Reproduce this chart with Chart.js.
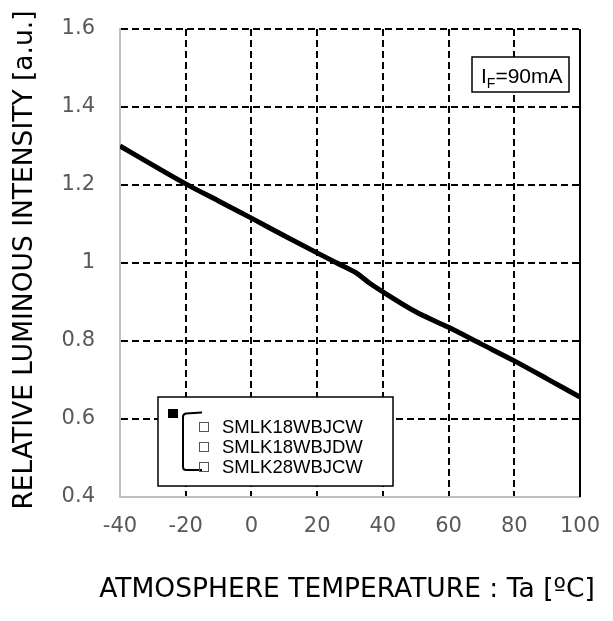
<!DOCTYPE html>
<html><head><meta charset="utf-8">
<script src="https://cdn.jsdelivr.net/npm/chart.js@4.4.0/dist/chart.umd.min.js"></script>
<style>html,body{margin:0;padding:0;background:#fff;}#wrap{width:613px;height:621px;}</style>
</head><body><div id="wrap"><canvas id="c" width="613" height="621"></canvas></div>
<script>
const temperatures = [-40, -30, -20, -10, 0, 10, 20, 26, 32, 36, 40, 50, 60, 70, 80, 90, 100];
const intensity    = [1.30, 1.251, 1.203, 1.159, 1.115, 1.07, 1.026, 1.0, 0.974, 0.948, 0.926, 0.875, 0.835, 0.792, 0.749, 0.703, 0.656];
const xTicks = [-40, -20, 0, 20, 40, 60, 80, 100];
const yTicks = [0.4, 0.6, 0.8, 1.0, 1.2, 1.4, 1.6];
const yTickLabels = ['0.4', '0.6', '0.8', '1', '1.2', '1.4', '1.6'];
const xTitle = 'ATMOSPHERE TEMPERATURE : Ta [ºC]';
const yTitle = 'RELATIVE LUMINOUS INTENSITY [a.u.]';
const legendItems = ['SMLK18WBJCW', 'SMLK18WBJDW', 'SMLK28WBJCW'];
const condition = {main: 'I', sub: 'F', rest: '=90mA'};

const decor = {
  id: 'decor',
  afterDraw(chart) {
    const ctx = chart.ctx, a = chart.chartArea;
    ctx.save();
    // right border
    ctx.strokeStyle = '#000'; ctx.lineWidth = 2; ctx.setLineDash([]);
    ctx.beginPath(); ctx.moveTo(a.right, a.top); ctx.lineTo(a.right, a.bottom); ctx.stroke();
    // axis titles
    ctx.fillStyle = '#000';
    ctx.font = '26.5px "DejaVu Sans"';
    ctx.textAlign = 'center'; ctx.textBaseline = 'middle';
    ctx.fillText(xTitle, 347, 590);
    ctx.save();
    ctx.translate(25, 260); ctx.rotate(-Math.PI/2);
    ctx.fillText(yTitle, 0, 0);
    ctx.restore();
    // condition box
    ctx.fillStyle = '#fff';
    ctx.fillRect(472, 57, 97, 35);
    ctx.strokeStyle = '#000'; ctx.lineWidth = 1.5;
    ctx.strokeRect(472, 57, 97, 35);
    ctx.fillStyle = '#000';
    ctx.textAlign = 'left'; ctx.textBaseline = 'alphabetic';
    ctx.font = '21px "Liberation Sans"';
    let x = 481;
    ctx.fillText(condition.main, x, 83); x += ctx.measureText(condition.main).width;
    ctx.font = '14px "Liberation Sans"';
    ctx.fillText(condition.sub, x, 88); x += ctx.measureText(condition.sub).width;
    ctx.font = '21px "Liberation Sans"';
    ctx.fillText(condition.rest, x, 83);
    // legend box
    ctx.fillStyle = '#fff';
    ctx.fillRect(158, 397, 235, 89);
    ctx.strokeStyle = '#000'; ctx.lineWidth = 1.5;
    ctx.strokeRect(158, 397, 235, 89);
    ctx.fillStyle = '#000';
    ctx.fillRect(168, 409, 10, 9);
    ctx.lineWidth = 2;
    ctx.beginPath();
    ctx.moveTo(202, 412.5); ctx.lineTo(186, 413.5);
    ctx.quadraticCurveTo(183, 414, 183, 417);
    ctx.lineTo(183, 467);
    ctx.quadraticCurveTo(183, 470, 186, 470);
    ctx.lineTo(202, 470);
    ctx.stroke();
    ctx.font = '18.5px "Liberation Sans"';
    ctx.textBaseline = 'middle';
    const rows = [427, 447, 467];
    legendItems.forEach((t, i) => {
      ctx.lineWidth = 1; ctx.strokeStyle = '#555';
      ctx.strokeRect(199.5, rows[i] - 4.5, 9, 9);
      ctx.fillStyle = '#000';
      ctx.fillText(t, 222, rows[i] + 1);
    });
    ctx.restore();
  }
};

function zeroPad(s) { s.paddingTop = 0; s.paddingBottom = 0; s.paddingLeft = 0; s.paddingRight = 0; }

new Chart(document.getElementById('c'), {
  type: 'scatter',
  data: {
    datasets: [{
      data: temperatures.map((t, i) => ({x: t, y: intensity[i]})),
      showLine: true,
      borderColor: '#000',
      borderWidth: 5,
      pointRadius: 0,
      cubicInterpolationMode: 'monotone',
      fill: false
    }]
  },
  options: {
    responsive: false,
    animation: false,
    devicePixelRatio: 1,
    layout: {padding: {left: 0, right: 33, top: 29, bottom: 0}},
    plugins: {legend: {display: false}, tooltip: {enabled: false}},
    scales: {
      x: {
        type: 'linear', min: -40, max: 100,
        afterBuildTicks: s => { s.ticks = xTicks.map(v => ({value: v})); },
        afterFit: s => { s.height = 124; zeroPad(s); },
        ticks: {color: '#595959', font: {family: 'DejaVu Sans', size: 21}, padding: 17, maxRotation: 0,
                callback: v => String(v)},
        grid: {color: '#000', lineWidth: 2, drawTicks: false},
        border: {color: '#bfbfbf', width: 2, dash: [7, 4]}
      },
      y: {
        type: 'linear', min: 0.4, max: 1.6,
        afterBuildTicks: s => { s.ticks = yTicks.map(v => ({value: v})); },
        afterFit: s => { s.width = 120; zeroPad(s); },
        ticks: {color: '#595959', font: {family: 'DejaVu Sans', size: 21}, padding: 25,
                callback: (v) => { const i = yTicks.findIndex(t => Math.abs(t - v) < 1e-6); return i >= 0 ? yTickLabels[i] : ''; }},
        grid: {color: '#000', lineWidth: 2, drawTicks: false},
        border: {color: '#bfbfbf', width: 2, dash: [7, 4]}
      }
    }
  },
  plugins: [decor]
});
</script></body></html>
